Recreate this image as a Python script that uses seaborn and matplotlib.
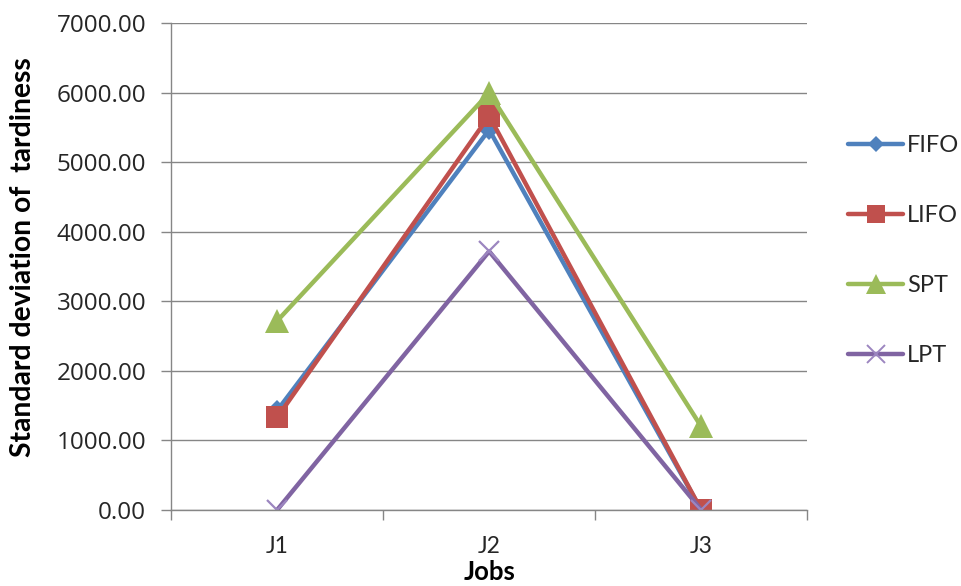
import matplotlib
matplotlib.use("Agg")
import matplotlib.pyplot as plt
from matplotlib.lines import Line2D
import seaborn as sns
import pandas as pd

# Job categories and standard deviation of tardiness per dispatching rule
jobs = ["J1", "J2", "J3"]
fifo = [1430, 5470, 0]
lifo = [1330, 5670, 0]
spt = [2720, 6000, 1200]
lpt = [0, 3720, 0]
rules = ["FIFO", "LIFO", "SPT", "LPT"]
y_ticks = [0, 1000, 2000, 3000, 4000, 5000, 6000, 7000]

colors = {"FIFO": "#4F81BD", "LIFO": "#C0504D", "SPT": "#9BBB59", "LPT": "#8064A2"}
markers = {"FIFO": "D", "LIFO": "s", "SPT": "^", "LPT": "x"}
msizes = {"FIFO": 10.5, "LIFO": 15.5, "SPT": 17, "LPT": 15}

df = pd.DataFrame({
    "Jobs": jobs * 4,
    "Rule": sum([[r] * 3 for r in rules], []),
    "Value": fifo + lifo + spt + lpt,
})

sns.set_theme(style="white")
plt.rcParams["font.family"] = ["Lato", "DejaVu Sans"]

fig = plt.figure(figsize=(9.62, 5.86), dpi=100)
ax = fig.add_axes([0.178, 0.130, 0.661, 0.830])

# seaborn won't mix filled and line-art markers, so the cross is set afterwards
sns.lineplot(data=df, x="Jobs", y="Value", hue="Rule", style="Rule",
             hue_order=rules, style_order=rules, palette=colors,
             markers={r: ("o" if m == "x" else m) for r, m in markers.items()},
             dashes=False, linewidth=3.2, ax=ax, legend=False, sort=False)

for line, r in zip(ax.lines, rules):
    line.set_marker(markers[r])
    line.set_markersize(msizes[r])
    line.set_markerfacecolor(colors[r])
    line.set_markeredgecolor(colors[r])
    line.set_solid_joinstyle("round")
    if r == "LPT":
        line.set_markeredgewidth(1.6)
        line.set_markeredgecolor("#9C86C0")
    else:
        line.set_markeredgewidth(0)

ax.set_xlim(-0.5, 2.5)
ax.set_ylim(0, 7000)
ax.set_yticks(y_ticks)
ax.set_yticklabels([f"{v:.2f}" for v in y_ticks], fontsize=17.5, color="#262626",
                   family=["Open Sans", "DejaVu Sans"])
ax.set_xticks(range(len(jobs)))
ax.set_xticklabels(jobs, fontsize=16.5, color="#262626")
ax.set_xticks([-0.5, 0.5, 1.5, 2.5], minor=True)
ax.tick_params(axis="x", which="major", length=0, pad=19)
ax.tick_params(axis="x", which="minor", length=7, width=1, color="#868686", direction="out", bottom=True)
ax.tick_params(axis="y", length=7, width=1, color="#868686", direction="out", left=True, pad=11)

ax.yaxis.grid(True, color="#868686", linewidth=1)
ax.xaxis.grid(False)
ax.set_axisbelow(True)
for s in ["top", "right"]:
    ax.spines[s].set_visible(False)
for s in ["left", "bottom"]:
    ax.spines[s].set_color("#868686")
    ax.spines[s].set_linewidth(1)

ax.set_xlabel("Jobs", fontsize=18.5, fontweight="bold", color="black", labelpad=2)
ax.set_ylabel("Standard deviation of  tardiness", fontsize=20.3, fontweight="bold",
              color="black")
ax.yaxis.set_label_coords(-0.212, 0.52)

handles = []
for r in rules:
    h = Line2D([], [], color=colors[r], linewidth=3.2, marker=markers[r],
               markersize=msizes[r] * 0.82, markerfacecolor=colors[r],
               markeredgecolor="#9C86C0" if r == "LPT" else colors[r],
               markeredgewidth=1.4 if r == "LPT" else 0)
    handles.append(h)
leg = fig.legend(handles, rules, loc="upper left", bbox_to_anchor=(0.872, 0.786),
                 frameon=False, fontsize=17, labelspacing=2.08, handlelength=2.33,
                 handletextpad=0.17, borderaxespad=0)
for t in leg.get_texts():
    t.set_color("#262626")

fig.savefig("out.png", dpi=100)
